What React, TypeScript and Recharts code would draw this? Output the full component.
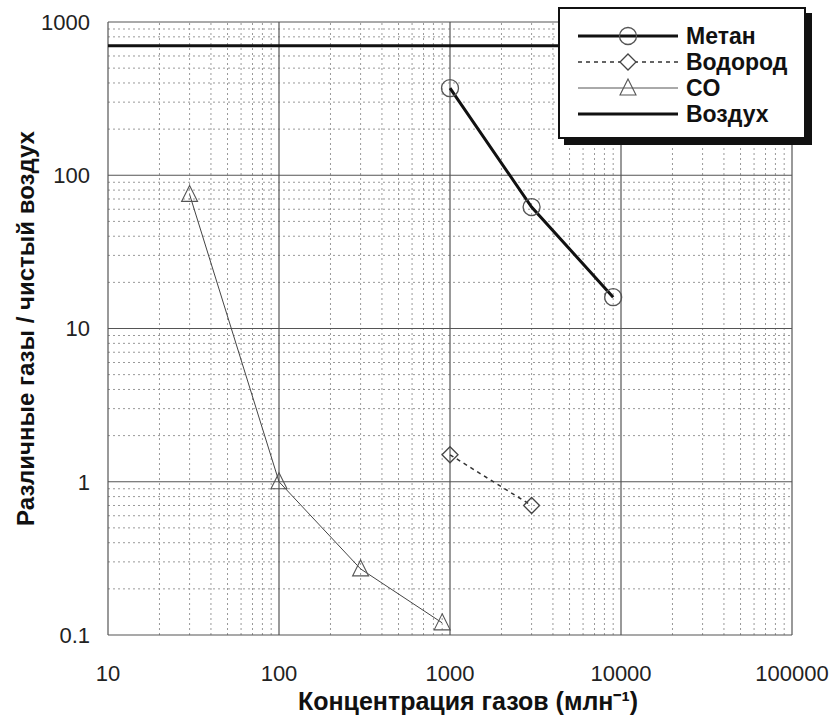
import React from 'react';
import {
  LineChart,
  Line,
  XAxis,
  YAxis,
  ReferenceLine,
  Legend,
  Label,
} from 'recharts';

// концентрация газов (млн-1) и отношение к чистому воздуху
const methaneX = [1000, 3000, 9000];
const methaneY = [370, 62, 16];
const hydrogenX = [1000, 3000];
const hydrogenY = [1.5, 0.7];
const coX = [30, 100, 300, 900];
const coY = [75, 1.0, 0.27, 0.12];
const airX = [10, 100000];
const airY = [700, 700];

const xTicks = [10, 100, 1000, 10000, 100000];
const yTicks = [0.1, 1, 10, 100, 1000];
const minorSteps = [2, 3, 4, 5, 6, 7, 8, 9];

const seriesNames = ['Метан', 'Водород', 'CO', 'Воздух'];

const toPoints = (xs: number[], ys: number[]) =>
  xs.map((x, i) => ({ x, y: ys[i] }));

const minorOf = (majors: number[]) =>
  majors.slice(0, -1).flatMap((m) => minorSteps.map((s) => m * s));

const FONT = '"Liberation Sans", Arial, sans-serif';

const CircleDot = (props: any) => {
  const { cx, cy } = props;
  if (cx == null || cy == null) return null;
  return <circle cx={cx} cy={cy} r={8.5} fill="none" stroke="#555" strokeWidth={1.3} />;
};

const DiamondDot = (props: any) => {
  const { cx, cy } = props;
  if (cx == null || cy == null) return null;
  const s = 8;
  return (
    <polygon
      points={`${cx},${cy - s} ${cx + s},${cy} ${cx},${cy + s} ${cx - s},${cy}`}
      fill="none"
      stroke="#444"
      strokeWidth={1.3}
    />
  );
};

const TriangleDot = (props: any) => {
  const { cx, cy } = props;
  if (cx == null || cy == null) return null;
  const s = 8;
  return (
    <polygon
      points={`${cx},${cy - s - 1} ${cx + s},${cy + s - 1} ${cx - s},${cy + s - 1}`}
      fill="none"
      stroke="#555"
      strokeWidth={1.1}
    />
  );
};

const legendIcons: Record<string, React.ReactNode> = {
  Метан: (
    <>
      <line x1={0} y1={10} x2={100} y2={10} stroke="#111" strokeWidth={3} />
      <circle cx={50} cy={10} r={8.5} fill="none" stroke="#555" strokeWidth={1.3} />
    </>
  ),
  Водород: (
    <>
      <line x1={0} y1={10} x2={100} y2={10} stroke="#333" strokeWidth={1.5} strokeDasharray="4 4" />
      <polygon points="50,2 58,10 50,18 42,10" fill="white" stroke="#444" strokeWidth={1.3} />
    </>
  ),
  CO: (
    <>
      <line x1={0} y1={10} x2={100} y2={10} stroke="#555" strokeWidth={1} />
      <polygon points="50,1 58,17 42,17" fill="none" stroke="#555" strokeWidth={1.1} />
    </>
  ),
  Воздух: <line x1={0} y1={10} x2={100} y2={10} stroke="#111" strokeWidth={3} />,
};

const LegendBox = () => (
  <div
    style={{
      width: 248,
      height: 132,
      border: '2px solid #111',
      boxShadow: '6px 6px 0 #111',
      background: '#fff',
      padding: '14px 0 0 18px',
      boxSizing: 'border-box',
      fontFamily: FONT,
    }}
  >
    {seriesNames.map((name) => (
      <div key={name} style={{ display: 'flex', alignItems: 'center', height: 26 }}>
        <svg width={102} height={20} style={{ overflow: 'visible' }}>
          {legendIcons[name]}
        </svg>
        <span style={{ fontWeight: 'bold', fontSize: 23, marginLeft: 6, color: '#111', lineHeight: '26px' }}>
          {name}
        </span>
      </div>
    ))}
  </div>
);

const tickStyle = { fill: '#222', fontSize: 22, fontFamily: FONT };

export default function App() {
  const minorX = minorOf(xTicks);
  const minorY = minorOf(yTicks);
  return (
    <div style={{ position: 'absolute', left: 0, top: 0, background: '#fff' }}>
      <LineChart
        width={840}
        height={726}
        margin={{ top: 22, right: 48, left: 0, bottom: 0 }}
        style={{ fontFamily: FONT }}
      >
        <XAxis
          dataKey="x"
          type="number"
          scale="log"
          domain={[10, 100000]}
          ticks={xTicks}
          allowDataOverflow
          height={91}
          tickLine={false}
          axisLine={false}
          tickSize={6}
          tickMargin={24}
          tick={tickStyle}
          tickFormatter={(v: number) => String(v)}
        >
          <Label
            value="Концентрация газов (млн⁻¹)"
            position="insideBottom"
            offset={16}
            dx={18}
            style={{ fontWeight: 'bold', fontSize: 25, fill: '#111', fontFamily: FONT }}
          />
        </XAxis>
        <YAxis
          dataKey="y"
          type="number"
          scale="log"
          domain={[0.1, 1000]}
          ticks={yTicks}
          allowDataOverflow
          width={108}
          tickLine={false}
          axisLine={false}
          tickSize={6}
          tickMargin={12}
          tick={tickStyle}
          tickFormatter={(v: number) => String(v)}
        >
          <Label
            value="Различные газы / чистый воздух"
            angle={-90}
            position="insideLeft"
            offset={25}
            style={{ fontWeight: 'bold', fontSize: 24, fill: '#111', fontFamily: FONT, textAnchor: 'middle' }}
          />
        </YAxis>

        {minorX.map((v) => (
          <ReferenceLine key={`mx${v}`} x={v} stroke="#999" strokeDasharray="2 3" />
        ))}
        {minorY.map((v) => (
          <ReferenceLine key={`my${v}`} y={v} stroke="#999" strokeDasharray="2 3" />
        ))}
        {xTicks.map((v) => (
          <ReferenceLine key={`Mx${v}`} x={v} stroke="#555" strokeWidth={1.2} />
        ))}
        {yTicks.map((v) => (
          <ReferenceLine key={`My${v}`} y={v} stroke="#555" strokeWidth={1.2} />
        ))}

        <Line
          data={toPoints(airX, airY)}
          dataKey="y"
          name="Воздух"
          stroke="#111"
          strokeWidth={3}
          dot={false}
          isAnimationActive={false}
        />
        <Line
          data={toPoints(coX, coY)}
          dataKey="y"
          name="CO"
          stroke="#444"
          strokeWidth={1}
          dot={(p: any) => <TriangleDot key={`co${p.index}`} {...p} />}
          isAnimationActive={false}
        />
        <Line
          data={toPoints(hydrogenX, hydrogenY)}
          dataKey="y"
          name="Водород"
          stroke="#333"
          strokeWidth={1.5}
          strokeDasharray="4 4"
          dot={(p: any) => <DiamondDot key={`h${p.index}`} {...p} />}
          isAnimationActive={false}
        />
        <Line
          data={toPoints(methaneX, methaneY)}
          dataKey="y"
          name="Метан"
          stroke="#111"
          strokeWidth={3}
          dot={(p: any) => <CircleDot key={`m${p.index}`} {...p} />}
          isAnimationActive={false}
        />

        <Legend
          layout="vertical"
          align="center"
          verticalAlign="middle"
          content={() => <LegendBox />}
          wrapperStyle={{ left: 558, top: 7, width: 'auto', height: 'auto' }}
        />
      </LineChart>
    </div>
  );
}
